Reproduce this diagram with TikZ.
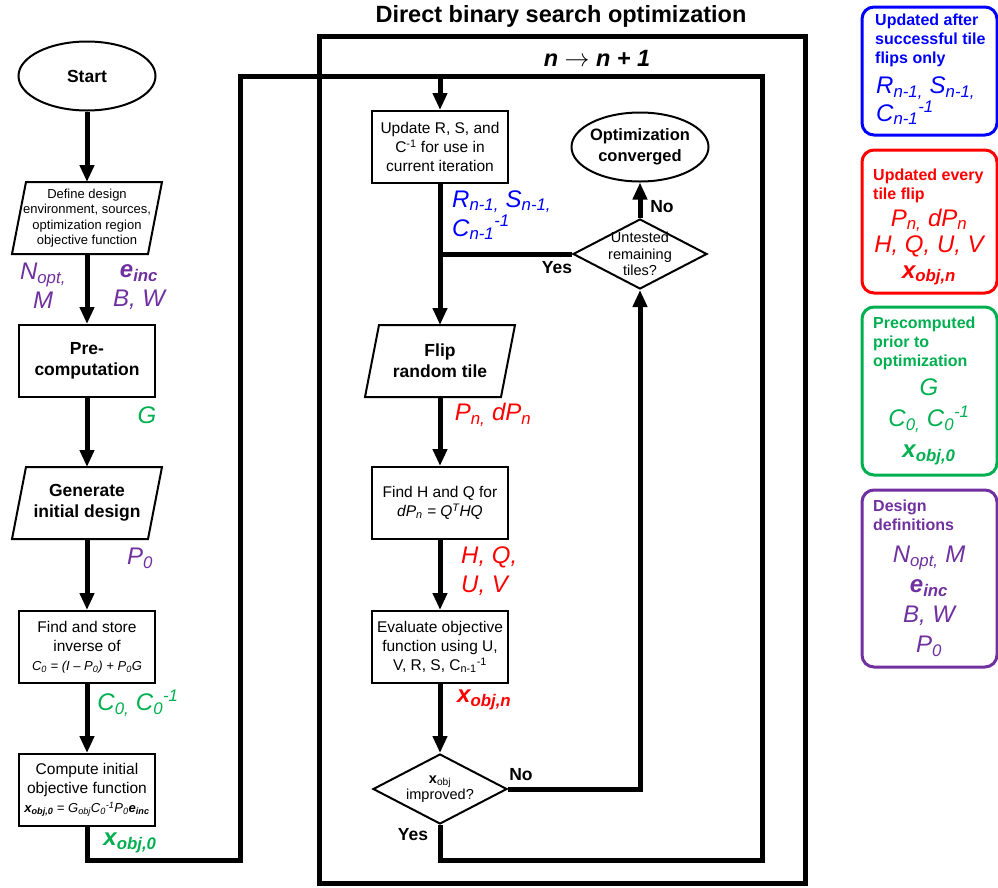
\documentclass[tikz,border=0pt]{standalone}
\usepackage{xcolor}
\usepackage{fontspec}
\setmainfont{Liberation Sans}
\usepackage{tikz}
\usetikzlibrary{shapes, arrows.meta, positioning}

\definecolor{updblue}{RGB}{0,0,255}
\definecolor{updred}{RGB}{255,0,0}
\definecolor{pregreen}{RGB}{0,176,80}
\definecolor{defpurple}{RGB}{112,48,160}

\newcommand{\dbstitlefont}{\fontsize{23.5pt}{28pt}\selectfont\bfseries}
\newcommand{\bigbold}{\fontsize{17.5pt}{21pt}\selectfont\bfseries}
\newcommand{\convfont}{\fontsize{16.5pt}{21pt}\selectfont\bfseries}
\newcommand{\boxfont}{\fontsize{15.5pt}{19pt}\selectfont}
\newcommand{\smallboxfont}{\fontsize{13pt}{15.5pt}\selectfont}
\newcommand{\decfont}{\fontsize{14.5pt}{16.5pt}\selectfont}
\newcommand{\varfont}{\fontsize{24pt}{29pt}\selectfont\itshape}
\newcommand{\legheadfont}{\fontsize{16pt}{19pt}\selectfont\bfseries}
\newcommand{\slant}[1]{\draw[line width=2pt] ([xshift=7pt]#1.north west) -- ([xshift=7pt]#1.north east) -- ([xshift=-7pt]#1.south east) -- ([xshift=-7pt]#1.south west) -- cycle;}

\begin{document}
\begin{tikzpicture}[x=1pt, y=-1pt,
    procbox/.style={draw, rectangle, line width=2pt, minimum width=136pt, minimum height=72pt, align=center, inner sep=1pt},
    slantbox/.style={rectangle, minimum width=136pt, minimum height=72pt, align=center, inner sep=1pt, outer sep=0pt},
    termnode/.style={draw, ellipse, line width=2pt, minimum width=137pt, minimum height=69pt, inner sep=0pt},
    decision/.style={draw, diamond, line width=2pt, minimum width=134pt, minimum height=70pt, inner sep=0pt},
    wire/.style={line width=5pt},
    flow/.style={wire, -{Triangle[width=14pt, length=17pt]}},
    legbox/.style={draw, rounded corners=12pt, line width=3pt, minimum width=135pt},
    varlabel/.style={font=\varfont, align=center, inner sep=0pt},
    leghead/.style={font=\legheadfont, align=left, anchor=west, inner sep=0pt},
    answer/.style={font=\bigbold, inner sep=0pt}]
    \useasboundingbox (0,0) rectangle (998,887);

    % left column
    \node[termnode, font=\bigbold] (start) at (87,76) {Start};
    \node[slantbox, font=\smallboxfont] (define) at (87,218) {Define design\\environment, sources,\\optimization region\\objective function};
    \slant{define}
    \node[procbox, font=\bigbold] (pre) at (87,361) {Pre-\\computation};
    \node[slantbox, font=\bigbold] (gen) at (87,503) {Generate\\initial design};
    \slant{gen}
    \node[procbox, font=\boxfont] (find) at (87,647) {Find and store\\inverse of\\{\smallboxfont\itshape C\textsubscript{0} = (I \textendash{} P\textsubscript{0}) + P\textsubscript{0}G}};
    \node[procbox, font=\boxfont] (comp) at (87,790) {Compute initial\\objective function\\{\smallboxfont\itshape\textbf{x\textsubscript{obj,0}} = G\textsubscript{obj}C\textsubscript{0}\textsuperscript{-1}P\textsubscript{0}\textbf{e\textsubscript{inc}}}};

    % optimization loop
    \node[font=\dbstitlefont] (title) at (561,16) {Direct binary search optimization};
    \node[draw, line width=5pt, minimum width=486pt, minimum height=847pt, inner sep=0pt] (dbs) at (562,460) {};
    \node[font=\dbstitlefont\itshape] (iter) at (597,58) {n $\rightarrow$ n + 1};
    \node[procbox, font=\boxfont] (update) at (440,147) {Update R, S, and\\C\textsuperscript{-1} for use in\\current iteration};
    \node[termnode, label={[font=\convfont, align=center]center:Optimization\\converged}] (conv) at (640,147) {};
    \node[decision, label={[font=\decfont, align=center]center:Untested\\remaining\\tiles?}] (untested) at (640,254) {};
    \node[slantbox, font=\bigbold] (flip) at (440,361) {Flip\\random tile};
    \slant{flip}
    \node[procbox, font=\boxfont] (findh) at (440,503) {Find H and Q for\\{\itshape dP\textsubscript{n} = Q\textsuperscript{T}HQ}};
    \node[procbox, font=\boxfont] (eval) at (440,647) {Evaluate objective\\function using U,\\V, R, S, C\textsubscript{n-1}\textsuperscript{-1}};
    \node[decision, label={[font=\decfont, align=center]center:\textbf{x}\textsubscript{obj}\\improved?}] (improved) at (440,789) {};

    \coordinate (botL) at (240,860);
    \coordinate (topL) at (240,76);
    \coordinate (botR) at (762,860);
    \coordinate (topR) at (762,76);

    \draw[flow] (start) -- (define);
    \draw[flow] (define) -- (pre);
    \draw[flow] (pre) -- (gen);
    \draw[flow] (gen) -- (find);
    \draw[flow] (find) -- (comp);
    \draw[flow] (comp) |- (botL) -- (topL) -| (update);
    \draw[wire] (improved) |- (botR) -- (topR) -- (topR -| update);
    \draw[wire] (untested) -- (untested -| update);
    \draw[flow] (update) -- (flip);
    \draw[flow] (untested) -- (conv);
    \draw[flow] (flip) -- (findh);
    \draw[flow] (findh) -- (eval);
    \draw[flow] (eval) -- (improved);
    \draw[flow] (improved) -| (untested);

    \node[answer] (yesup) at (557,268) {Yes};
    \node[answer] (noup) at (662,207) {No};
    \node[answer] (nodown) at (521,775) {No};
    \node[answer] (yesdown) at (413,835) {Yes};

    % variables along the flow
    \node[varlabel, text=defpurple] (nvar) at (43,286) {N\textsubscript{opt,}\\M};
    \node[varlabel, text=defpurple] (evar) at (139,287) {\textbf{e\textsubscript{inc}}\\B, W};
    \node[varlabel, text=pregreen] (gvar) at (147,415) {G};
    \node[varlabel, text=defpurple] (pvar0) at (140,558) {P\textsubscript{0}};
    \node[varlabel, text=pregreen] (cvar) at (138,703) {C\textsubscript{0,} C\textsubscript{0}\textsuperscript{-1}};
    \node[varlabel, text=pregreen] (xvar0) at (130,843) {\textbf{x\textsubscript{obj,0}}};
    \node[varlabel, text=updblue, anchor=west, align=left] (rsvar) at (452,215) {R\textsubscript{n-1,} S\textsubscript{n-1,}\\C\textsubscript{n-1}\textsuperscript{-1}};
    \node[varlabel, text=updred] (pvarn) at (493,415) {P\textsubscript{n,} dP\textsubscript{n}};
    \node[varlabel, text=updred, anchor=west, align=left] (hvar) at (461,571) {H, Q,\\U, V};
    \node[varlabel, text=updred, anchor=west] (xvarn) at (457,700) {\textbf{x\textsubscript{obj,n}}};

    % legend
    \node[legbox, draw=updblue, minimum height=128pt] (legblue) at (929.5,71) {};
    \node[leghead, text=updblue] at (875,40) {Updated after\\successful tile\\flips only};
    \node[varlabel, text=updblue, anchor=west, align=left, font={\fontsize{24pt}{26pt}\selectfont\itshape}] at (876,101) {R\textsubscript{n-1,} S\textsubscript{n-1,}\\C\textsubscript{n-1}\textsuperscript{-1}};

    \node[legbox, draw=updred, minimum height=143pt] (legred) at (929.5,221.5) {};
    \node[leghead, text=updred] at (873,186) {Updated every\\tile flip};
    \node[varlabel, text=updred, font={\fontsize{24pt}{26pt}\selectfont\itshape}] at (929,247) {P\textsubscript{n,} dP\textsubscript{n}\\H, Q, U, V\\\textbf{x\textsubscript{obj,n}}};

    \node[legbox, draw=pregreen, minimum height=168pt] (leggreen) at (929.5,391) {};
    \node[leghead, text=pregreen] at (873,343) {Precomputed\\prior to\\optimization};
    \node[varlabel, text=pregreen, font={\fontsize{24pt}{31pt}\selectfont\itshape}] at (929,422) {G\\C\textsubscript{0,} C\textsubscript{0}\textsuperscript{-1}\\\textbf{x\textsubscript{obj,0}}};

    \node[legbox, draw=defpurple, minimum height=177pt] (legpurple) at (929.5,578.5) {};
    \node[leghead, text=defpurple] at (873,515) {Design\\definitions};
    \node[varlabel, text=defpurple, font={\fontsize{24pt}{30pt}\selectfont\itshape}] at (929,601) {N\textsubscript{opt,} M\\\textbf{e\textsubscript{inc}}\\B, W\\P\textsubscript{0}};
\end{tikzpicture}
\end{document}
